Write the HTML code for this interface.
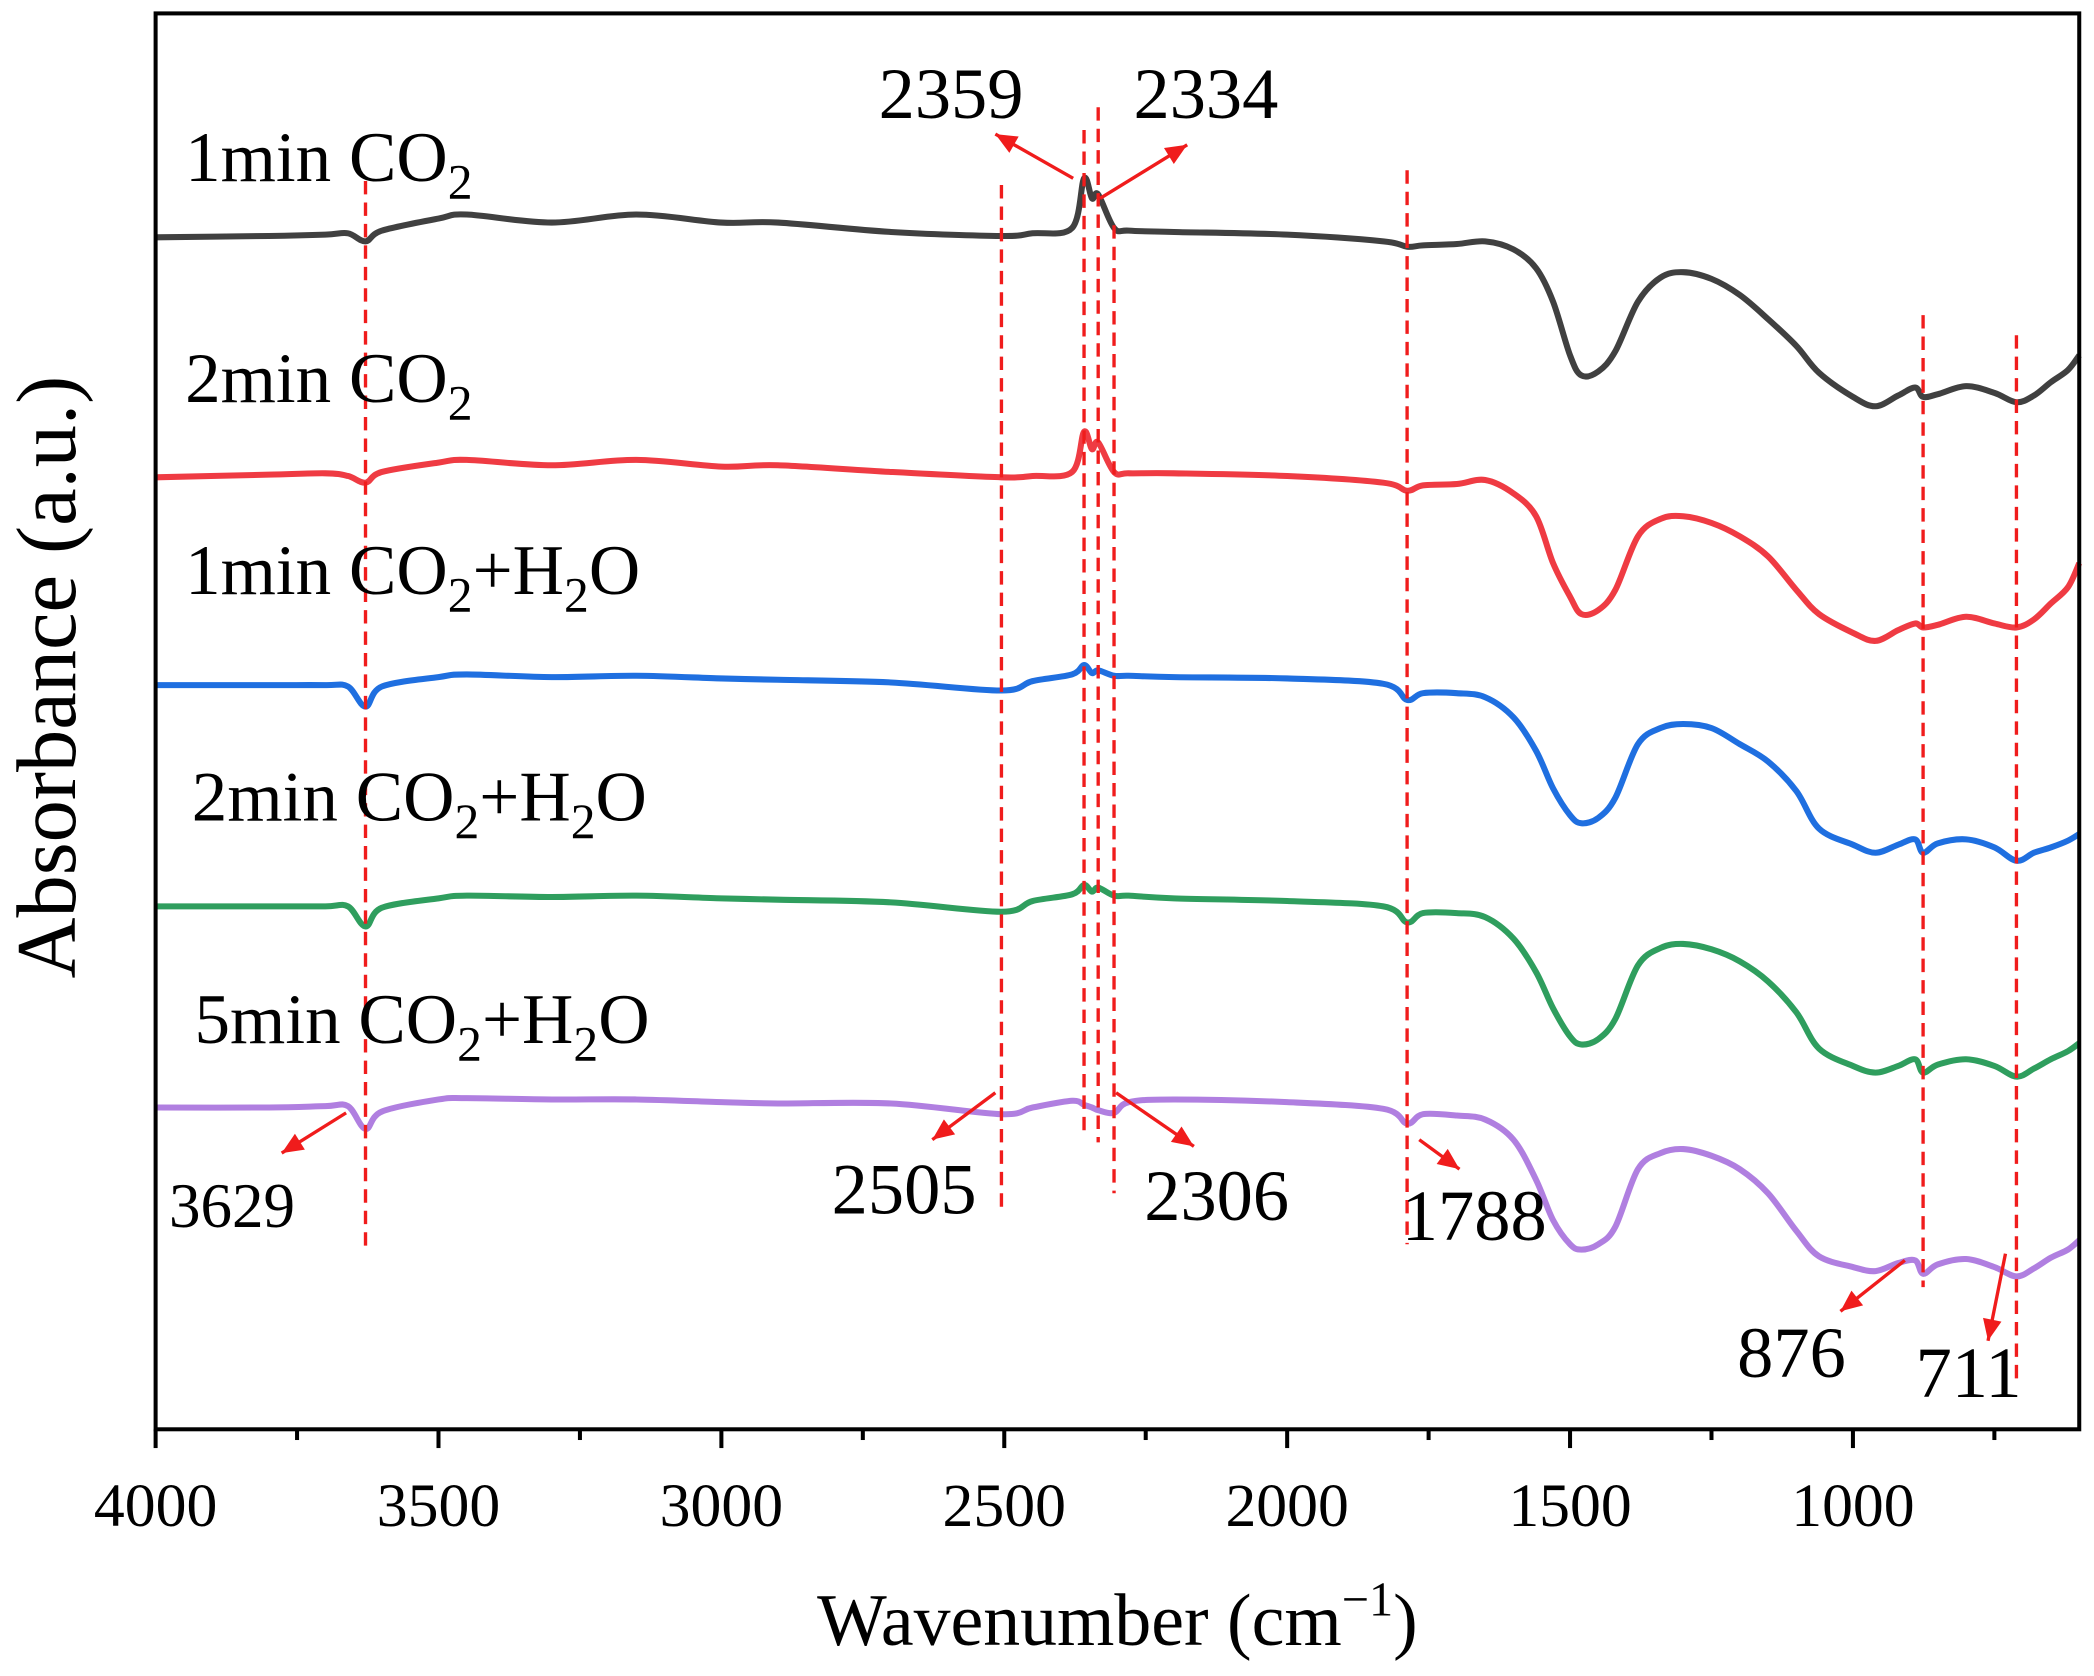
<!DOCTYPE html>
<html><head><meta charset="utf-8"><style>
html,body{margin:0;padding:0;background:#fff;}
svg{display:block;font-family:"Liberation Serif",serif;}
</style></head><body>
<svg id="chart" width="2094" height="1676" viewBox="0 0 1561 1250" preserveAspectRatio="none" xmlns="http://www.w3.org/2000/svg">
<rect x="0" y="0" width="1561" height="1250" fill="#fff"/>
<g id="series"></g>
<g id="refs"></g>
<rect x="116" y="10" width="1434" height="1056" fill="none" stroke="#000" stroke-width="3"/>
<g id="xticks"></g>
<text transform="translate(56,505) rotate(-90)" text-anchor="middle" font-size="63">Absorbance (a.u.)</text>
<text x="833" y="1227" text-anchor="middle" font-size="55">Wavenumber (cm<tspan font-size="36" dy="-22">−1</tspan><tspan dy="22">)</tspan></text>
<g font-size="53">
<text x="138" y="135">1min CO<tspan font-size="37" dy="13">2</tspan></text>
<text x="138" y="300">2min CO<tspan font-size="37" dy="13">2</tspan></text>
<text x="138" y="443">1min CO<tspan font-size="37" dy="13">2</tspan><tspan dy="-13">+H</tspan><tspan font-size="37" dy="13">2</tspan><tspan dy="-13">O</tspan></text>
<text x="143" y="612">2min CO<tspan font-size="37" dy="13">2</tspan><tspan dy="-13">+H</tspan><tspan font-size="37" dy="13">2</tspan><tspan dy="-13">O</tspan></text>
<text x="145" y="778">5min CO<tspan font-size="37" dy="13">2</tspan><tspan dy="-13">+H</tspan><tspan font-size="37" dy="13">2</tspan><tspan dy="-13">O</tspan></text>
</g>
<g id="annot"></g>
</svg>
<script>
const wavenumbers=[4000,3800,3700,3660,3629,3600,3500,3450,3300,3150,3000,2900,2700,2505,2450,2380,2359,2345,2334,2306,2280,2200,2000,1830,1788,1760,1700,1650,1600,1560,1530,1500,1480,1450,1420,1380,1340,1300,1250,1200,1150,1100,1060,1000,960,920,890,876,850,800,750,711,680,650,620,600];
const gray1minCO2=[889,890,891,892,886,894,903,906,900,906,900,900,893,890,892,896,933,918,921,896,894,893,891,886,882,883,884,886,880,866,841,801,786,789,804,841,859,863,858,846,828,808,788,770,763,771,777,770,772,778,773,766,771,781,790,801];
const red2minCO2=[710,712,713,711,706,714,721,723,719,723,718,719,714,710,711,714,744,731,736,714,713,713,711,706,700,704,705,708,698,681,646,621,608,611,626,666,679,681,676,666,651,626,608,594,588,596,601,598,600,606,601,598,604,616,628,646];
const blue1minH2O=[555,555,555,554,539,554,561,563,561,562,560,559,557,551,558,563,570,564,566,562,562,561,560,556,544,549,549,546,531,506,478,458,452,456,471,511,523,526,523,511,498,476,448,436,430,436,440,430,437,440,434,424,430,434,439,444];
const green2minH2O=[390,390,390,390,375,389,396,398,397,398,396,395,393,386,394,399,406,401,404,398,398,396,394,390,378,385,385,382,366,341,314,293,287,291,306,346,359,362,358,349,334,311,284,271,266,271,276,266,272,276,271,263,269,276,282,288];
const purple5minH2O=[240,240,241,241,224,237,246,247,246,246,244,243,243,235,240,245,242,240,238,236,244,246,244,239,228,235,234,231,216,186,156,138,134,138,151,194,206,209,204,194,176,148,129,121,118,124,126,116,123,127,121,114,120,128,134,141];
const xTickLabels=[4000,3500,3000,2500,2000,1500,1000];
const refLines=[3629,2505,2359,2334,2306,1788,876,711];
const NS="http://www.w3.org/2000/svg";
function xs(w){return 116+(4000-w)*(1434/3400);}
function ys(v){return 1066-v;}
const seriesList=[[gray1minCO2,"#404040","series-1min-co2"],[red2minCO2,"#ef3b43","series-2min-co2"],[blue1minH2O,"#1f6fe0","series-1min-co2-h2o"],[green2minH2O,"#2f9e5e","series-2min-co2-h2o"],[purple5minH2O,"#b07fe0","series-5min-co2-h2o"]];
const sg=document.getElementById('series');
seriesList.forEach(s=>{
  const p=document.createElementNS(NS,'path');
  const pts=wavenumbers.map((w,i)=>[xs(w),ys(s[0][i])]);
  let d="M"+pts[0][0]+","+pts[0][1];
  for(let i=0;i<pts.length-1;i++){
    const p0=pts[Math.max(0,i-1)],p1=pts[i],p2=pts[i+1],p3=pts[Math.min(pts.length-1,i+2)];
    const c1=[p1[0]+(p2[0]-p0[0])/6,p1[1]+(p2[1]-p0[1])/6];
    const c2=[p2[0]-(p3[0]-p1[0])/6,p2[1]-(p3[1]-p1[1])/6];
    d+=" C"+c1[0]+","+c1[1]+" "+c2[0]+","+c2[1]+" "+p2[0]+","+p2[1];
  }
  p.setAttribute('d',d);
  p.setAttribute('fill','none');p.setAttribute('stroke',s[1]);p.setAttribute('stroke-width','4.5');p.setAttribute('stroke-linejoin','round');
  
  
  sg.appendChild(p);
});
const rg=document.getElementById('refs');
const tops={3629:135,2505:138,2359:97,2334:80,2306:168,1788:127,876:235,711:250};
const bots={3629:930,2505:905,2359:845,2334:852,2306:890,1788:928,876:960,711:1030};
refLines.forEach(w=>{
  const l=document.createElementNS(NS,'line');
  l.setAttribute('x1',xs(w));l.setAttribute('x2',xs(w));l.setAttribute('y1',tops[w]);l.setAttribute('y2',bots[w]);
  l.setAttribute('stroke','#f01c1c');l.setAttribute('stroke-width','2.5');l.setAttribute('stroke-dasharray','10,6');
  
  
  rg.appendChild(l);
});
const tg=document.getElementById('xticks');
for(let w=4000;w>=750;w-=250){
  const major=w%500===0;
  const t=document.createElementNS(NS,'line');
  t.setAttribute('x1',xs(w));t.setAttribute('x2',xs(w));t.setAttribute('y1',1066);t.setAttribute('y2',major?1080:1074);
  t.setAttribute('stroke','#000');t.setAttribute('stroke-width','3');
  
  
  tg.appendChild(t);
}
xTickLabels.forEach(w=>{
  const t=document.createElementNS(NS,'text');
  t.setAttribute('x',xs(w));t.setAttribute('y',1138);t.setAttribute('text-anchor','middle');t.setAttribute('font-size','46');
  t.textContent=w;
  
  
  tg.appendChild(t);
});
const ag=document.getElementById('annot');
const annText=["2359","2334","3629","2505","2306","1788","876","711"];
const annPos=[[655,88,54],[845,88,54],[126,915,47],[620,905,54],[853,910,54],[1045,925,54],[1295,1027,54],[1428,1042,54]];
const arrows=[[800,133,742,100],[820,148,885,108],[258,830,210,860],[742,815,695,850],[832,815,890,855],[1058,850,1088,872],[1420,940,1372,978],[1495,935,1482,1000]];
annText.forEach((s,i)=>{
  const t=document.createElementNS(NS,'text');
  t.setAttribute('x',annPos[i][0]);t.setAttribute('y',annPos[i][1]);t.setAttribute('font-size',annPos[i][2]);
  t.textContent=s;
  
  
  ag.appendChild(t);
  const a=arrows[i];
  const l=document.createElementNS(NS,'line');
  l.setAttribute('x1',a[0]);l.setAttribute('y1',a[1]);l.setAttribute('x2',a[2]);l.setAttribute('y2',a[3]);
  l.setAttribute('stroke','#f01c1c');l.setAttribute('stroke-width','2.5');
  
  
  ag.appendChild(l);
  const dx=a[2]-a[0],dy=a[3]-a[1],L=Math.hypot(dx,dy),ux=dx/L,uy=dy/L;
  const bx=a[2]-ux*16,by=a[3]-uy*16;
  const h=document.createElementNS(NS,'polygon');
  h.setAttribute('points',a[2]+","+a[3]+" "+(bx-uy*7)+","+(by+ux*7)+" "+(bx+uy*7)+","+(by-ux*7));
  h.setAttribute('fill','#f01c1c');
  
  
  ag.appendChild(h);
});
</script>
</body></html>
